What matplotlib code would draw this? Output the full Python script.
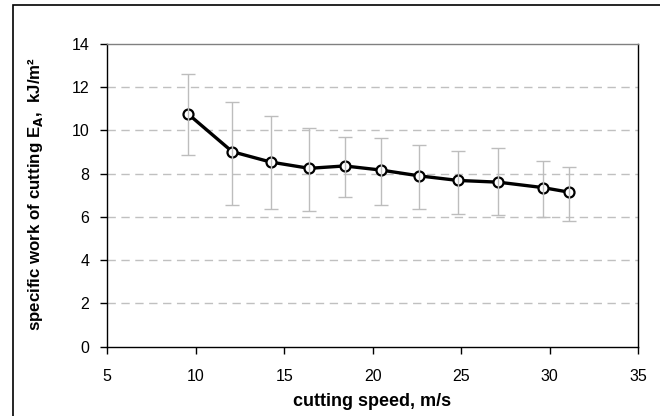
import numpy as np
import matplotlib.pyplot as plt
from matplotlib.patches import Rectangle

plt.rcParams['font.family'] = ['Liberation Sans', 'DejaVu Sans']

# 数据
speed = [9.54, 12.06, 14.23, 16.41, 18.41, 20.46, 22.63, 24.81, 27.09, 29.6, 31.07]
work = [10.78, 9.02, 8.54, 8.25, 8.36, 8.17, 7.9, 7.69, 7.61, 7.36, 7.15]
err_hi = [12.6, 11.3, 10.65, 10.1, 9.72, 9.65, 9.34, 9.06, 9.17, 8.6, 8.32]
err_lo = [8.87, 6.56, 6.36, 6.28, 6.92, 6.56, 6.36, 6.16, 6.07, 5.99, 5.8]
xticks = [5, 10, 15, 20, 25, 30, 35]
yticks = [0, 2, 4, 6, 8, 10, 12, 14]

work = np.array(work)
yerr = [work - np.array(err_lo), np.array(err_hi) - work]

W, H = 660, 416
fig = plt.figure(figsize=(6.6, 4.16), dpi=100)
ax = fig.add_axes([107.3 / W, 1 - 346.7 / H, (638.3 - 107.3) / W, (346.7 - 44) / H])

# 外框
fig.patches.append(Rectangle((12.5 / W, -0.1), 1.2, 1 - 5.3 / H + 0.1,
                             transform=fig.transFigure, fill=False,
                             edgecolor='black', linewidth=1.2))

for yv in yticks[1:-1]:
    ax.axhline(yv, color='#c0c0c0', linewidth=1, linestyle=(0, (6, 4)), zorder=0)

ax.plot(speed, work, color='black', linewidth=2.4, marker='o', markersize=7.2,
        markerfacecolor='white', markeredgecolor='black', markeredgewidth=1.6, zorder=3)
ax.errorbar(speed, work, yerr=yerr, fmt='none', ecolor='#bdbdbd', elinewidth=1,
            capsize=5, capthick=1, zorder=4)

ax.set_xlim(5, 35)
ax.set_ylim(0, 14)
ax.set_xticks(xticks)
ax.set_yticks(yticks)
ax.tick_params(direction='out', length=5, width=1, labelsize=11.5, colors='black')
ax.tick_params(axis='y', pad=8)
ax.tick_params(axis='x', pad=11)
ax.spines['top'].set_color('#808080')
ax.spines['right'].set_color('black')
for s in ax.spines.values():
    s.set_linewidth(1)

fig.text(372 / W, 1 - 402 / H, 'cutting speed, m/s', fontsize=13, fontweight='bold',
         ha='center', va='center')
fig.text(36 / W, 1 - 194 / H, r'specific work of cutting E$_\mathbf{A}$,  kJ/m²',
         fontsize=12.2, fontweight='bold', rotation=90, ha='center', va='center')

fig.savefig('out.png', dpi=100)
